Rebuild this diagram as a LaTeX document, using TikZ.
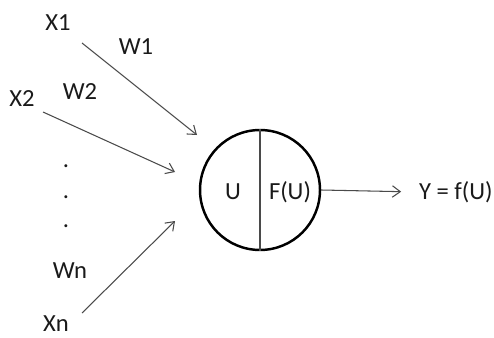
\documentclass[tikz,border=0pt]{standalone}
\usepackage{fontspec}
\setmainfont{Carlito}
\usetikzlibrary{arrows.meta}

\definecolor{wire}{HTML}{4A4A4A}
\definecolor{ink}{HTML}{1A1A1A}

\begin{document}
\begin{tikzpicture}[x=0.02cm, y=-0.02cm,
  every node/.style={font=\fontsize{14}{17}\selectfont, text=ink},
  link/.style={-{Straight Barb[length=4.5pt, width=6.5pt]}, wire, line width=0.6pt},
  lbl/.style={inner sep=1pt}]
  \useasboundingbox (0,0) rectangle (494,338);

  % neuron body
  \node[draw, circle, line width=1.4pt, minimum size=2.4cm, inner sep=0pt] (neuron) at (260,190) {};
  \draw[wire, line width=0.9pt] (neuron.north) -- (neuron.south);
  \node (sum) at (233,192) {U};
  \node (act) at (290,192) {F(U)};

  % inputs and weights
  \node[lbl] (x1) at (58,23) {X1};
  \node[lbl] (w1) at (136,47) {W1};
  \node[lbl] (x2) at (22,99) {X2};
  \node[lbl] (w2) at (80,92) {W2};
  \node[lbl] (wn) at (70,271) {Wn};
  \node[lbl] (xn) at (56,324) {Xn};
  \foreach \y/\name in {166/d1,197/d2,226/d3} {
    \node[lbl] (\name) at (66,\y) {.};
  }

  % arrow end points
  \coordinate (s1) at (82,43);
  \coordinate (e1) at (197,135);
  \coordinate (s2) at (43,112);
  \coordinate (e2) at (175,172);
  \coordinate (sn) at (82,313);
  \coordinate (en) at (175,221);
  \draw[link] (s1) -- (e1);
  \draw[link] (s2) -- (e2);
  \draw[link] (sn) -- (en);

  % output
  \node[anchor=west, inner sep=1pt] (out) at (417,192) {Y = f(U)};
  \draw[link, shorten >=9pt] (neuron.east) -- (out.west);
\end{tikzpicture}
\end{document}
